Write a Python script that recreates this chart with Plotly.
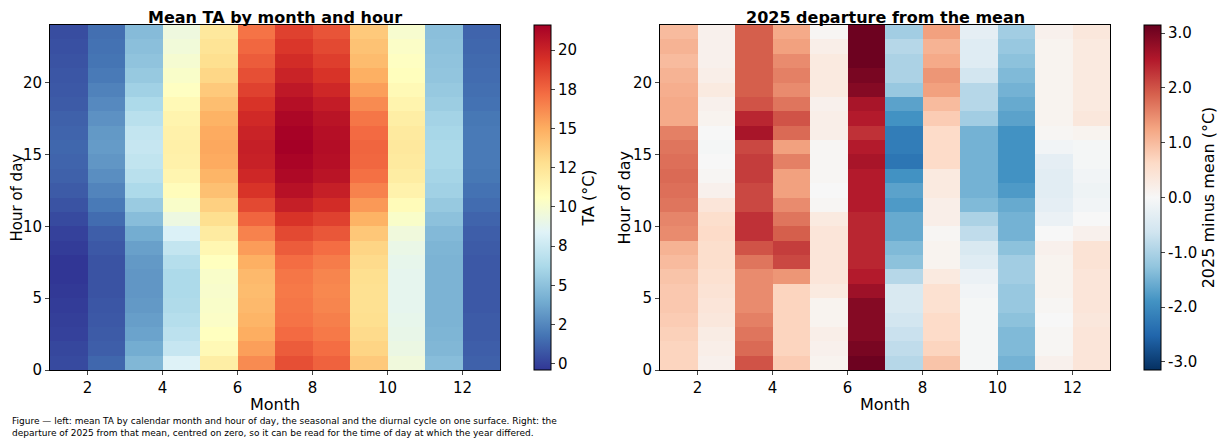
import plotly.graph_objects as go
import numpy as np

months = list(range(1, 13))
hours = list(range(24))

# Mean TA (°C) per month, hours 0..23
ta_m1 = [0.3,0.2,0.0,-0.1,-0.2,-0.3,-0.4,-0.4,-0.2,0.0,0.3,0.6,0.9,1.1,1.2,1.3,1.2,1.1,0.9,0.8,0.7,0.6,0.5,0.4]
ta_m2 = [1.3,1.0,0.9,0.8,0.7,0.6,0.6,0.6,0.8,1.0,1.5,2.0,2.4,2.8,3.1,3.3,3.2,2.9,2.6,2.3,2.0,1.8,1.7,1.6]
ta_m3 = [4.5,4.0,3.6,3.4,3.2,3.1,3.1,3.2,3.5,4.0,4.8,5.5,6.3,6.8,7.1,7.3,7.2,6.8,6.3,5.8,5.4,5.1,4.9,4.7]
ta_m4 = [8.3,7.3,6.9,6.6,6.4,6.3,6.3,6.6,7.2,8.2,9.3,10.2,10.8,11.3,11.6,11.7,11.6,11.4,11.0,10.5,10.2,9.9,9.6,9.4]
ta_m5 = [11.8,11.0,10.6,10.3,10.2,10.1,10.2,10.6,11.2,12.0,12.8,13.5,14.2,14.7,15.1,15.2,15.1,14.8,14.3,13.8,13.2,12.8,12.5,12.2]
ta_m6 = [16.2,15.5,15.0,14.7,14.5,14.4,14.5,14.9,15.6,16.5,17.5,18.5,19.3,19.8,20.1,20.2,20.0,19.7,19.3,18.8,18.3,17.8,17.4,17.0]
ta_m7 = [18.3,17.8,17.3,17.0,16.9,16.8,16.9,17.2,17.8,18.5,19.3,20.2,20.8,21.2,21.4,21.6,21.5,21.3,20.9,20.5,20.0,19.6,19.2,18.8]
ta_m8 = [17.6,17.2,16.8,16.6,16.4,16.3,16.4,16.7,17.2,18.0,18.8,19.6,20.2,20.7,20.9,21.0,20.9,20.7,20.3,19.8,19.3,18.9,18.5,18.1]
ta_m9 = [13.8,13.3,13.0,12.8,12.7,12.7,12.8,13.0,13.3,13.9,14.8,15.7,16.5,17.1,17.4,17.5,17.3,16.9,16.2,15.5,14.9,14.4,14.1,13.8]
ta_m10 = [9.5,9.2,9.0,8.9,8.8,8.8,8.8,8.9,9.1,9.5,10.2,10.9,11.5,11.9,12.1,12.2,12.1,11.8,11.4,11.0,10.7,10.5,10.3,10.0]
ta_m11 = [4.8,4.5,4.4,4.3,4.3,4.3,4.3,4.3,4.4,4.6,5.0,5.4,5.8,6.0,6.2,6.2,6.1,5.9,5.6,5.4,5.2,5.1,5.0,4.9]
ta_m12 = [1.1,1.0,0.9,0.9,0.8,0.8,0.8,0.8,0.9,1.0,1.2,1.5,1.7,1.9,2.0,2.0,2.0,1.9,1.7,1.6,1.5,1.4,1.3,1.2]

# 2025 minus mean (°C)
d_m1 = [0.7,0.7,0.75,0.8,0.85,0.85,0.9,1.0,1.1,1.5,1.55,1.7,1.75,1.8,1.75,1.7,1.6,1.2,1.2,1.15,1.1,1.0,1.1,1.0]
d_m2 = [0.15,0.2,0.25,0.35,0.4,0.45,0.5,0.55,0.55,0.6,0.55,0.4,0.15,0.05,0.0,-0.05,0.0,0.1,0.15,0.3,0.2,0.15,0.15,0.15]
d_m3 = [2.0,1.8,1.7,1.6,1.5,1.5,1.5,1.7,2.0,2.3,2.3,2.1,2.1,2.2,2.2,2.1,2.6,2.4,2.0,1.9,1.9,1.9,1.9,1.9]
d_m4 = [0.8,0.7,0.7,0.7,0.7,0.7,1.4,2.1,2.2,1.9,1.7,1.5,1.3,1.3,1.6,1.3,1.8,2.0,1.7,1.5,1.6,1.5,1.3,1.2]
d_m5 = [0.1,0.15,0.2,0.1,0.1,0.3,0.4,0.4,0.4,0.4,0.3,0.05,0.0,0.05,0.05,0.05,0.2,0.2,0.15,0.3,0.3,0.3,0.2,0.05]
d_m6 = [3.1,3.0,2.9,2.9,2.9,2.7,2.5,2.4,2.4,2.4,2.4,2.5,2.5,2.5,2.6,2.5,2.3,2.5,2.6,2.9,3.0,3.1,3.1,3.1]
d_m7 = [-0.9,-0.8,-0.7,-0.6,-0.5,-0.5,-0.9,-1.3,-1.4,-1.6,-1.6,-1.8,-1.7,-1.9,-2.3,-2.2,-2.2,-1.9,-1.7,-1.2,-1.0,-1.0,-0.9,-1.1]
d_m8 = [0.9,0.7,0.6,0.6,0.5,0.5,0.3,0.1,0.1,0.05,0.2,0.2,0.3,0.3,0.6,0.6,0.6,0.8,1.0,1.3,1.4,1.2,1.1,1.3]
d_m9 = [-0.05,-0.05,-0.05,-0.05,-0.05,-0.1,-0.2,-0.4,-0.5,-0.8,-1.0,-1.4,-1.5,-1.5,-1.5,-1.5,-1.5,-1.1,-0.9,-0.9,-0.6,-0.4,-0.4,-0.3]
d_m10 = [-1.5,-1.4,-1.4,-1.3,-1.2,-1.2,-1.1,-1.1,-1.3,-1.5,-1.5,-1.6,-1.8,-1.9,-1.9,-1.9,-1.9,-1.7,-1.6,-1.5,-1.4,-1.3,-1.2,-1.1]
d_m11 = [0.15,0.05,0.05,0.0,0.05,0.1,0.1,0.1,0.15,0.0,-0.2,-0.3,-0.35,-0.35,-0.3,-0.1,0.05,0.1,0.1,0.1,0.1,0.1,0.1,0.15]
d_m12 = [0.4,0.4,0.4,0.35,0.4,0.4,0.4,0.45,0.45,0.15,0.0,-0.1,-0.15,-0.1,-0.05,-0.05,0.1,0.35,0.3,0.3,0.3,0.3,0.3,0.35]

ta = np.array([ta_m1,ta_m2,ta_m3,ta_m4,ta_m5,ta_m6,ta_m7,ta_m8,ta_m9,ta_m10,ta_m11,ta_m12]).T
dep = np.array([d_m1,d_m2,d_m3,d_m4,d_m5,d_m6,d_m7,d_m8,d_m9,d_m10,d_m11,d_m12]).T

xc = [m + 0.5 for m in months]
yc = [h + 0.5 for h in hours]
lim = 3.15
OFF = 8  # page body margin
W, H = 1231, 440
L, R, T, B = 50 - OFF, 20, 25 - OFF, 70 + OFF
PW = W - L - R
PH = H - T - B
font = dict(family="DejaVu Sans", color="black")

def px(xpage):
    return (xpage - OFF - L) / PW

def cbar(xpix, title, vals, texts):
    return dict(x=px(xpix), xanchor="left", y=0, yanchor="bottom", len=1, lenmode="fraction", ypad=0,
                thickness=17, outlinecolor="black", outlinewidth=1, ticks="outside", ticklen=4,
                tickvals=vals, ticktext=texts, tickfont=dict(size=15, **font),
                title=dict(text=title, side="right", font=dict(size=16, **font)))

fig = go.Figure()
fig.add_trace(go.Heatmap(z=ta, x=xc, y=yc, colorscale="RdYlBu", reversescale=True,
    zmin=float(ta.min()), zmax=float(ta.max()), xaxis="x", yaxis="y",
    colorbar=cbar(524, "TA (°C)", [0,2.5,5,7.5,10,12.5,15,17.5,20],
                  ["0","2","5","8","10","12","15","18","20"])))
fig.add_trace(go.Heatmap(z=dep, x=xc, y=yc, colorscale="RdBu", reversescale=True,
    zmin=-lim, zmax=lim, xaxis="x2", yaxis="y2",
    colorbar=cbar(1134, "2025 minus mean (°C)", [-3,-2,-1,0,1,2,3],
                  ["-3.0","-2.0","-1.0","0.0","1.0","2.0","3.0"])))

ax = dict(showline=True, linecolor="black", linewidth=1, mirror=True, ticks="outside", ticklen=4,
          showgrid=False, zeroline=False, automargin=False, tickfont=dict(size=15, **font))
ann = dict(xref="paper", yref="paper", showarrow=False)
fig.update_layout(
    width=W, height=H, margin=dict(l=L, r=R, t=T, b=B, autoexpand=False),
    plot_bgcolor="white", paper_bgcolor="white", font=font,
    xaxis=dict(domain=[0, 450/PW], range=[1, 13], tickvals=[2,4,6,8,10,12],
               title=dict(text="Month", font=dict(size=16), standoff=2), **ax),
    yaxis=dict(domain=[0, 1], range=[0, 24], tickvals=[0,5,10,15,20], **ax),
    xaxis2=dict(domain=[610/PW, 1060/PW], range=[1, 13], tickvals=[2,4,6,8,10,12], anchor="y2",
                title=dict(text="Month", font=dict(size=16), standoff=2), **ax),
    yaxis2=dict(domain=[0, 1], range=[0, 24], tickvals=[0,5,10,15,20], anchor="x2", **ax),
    annotations=[
        dict(text="<b>Mean TA by month and hour</b>", x=225/PW, y=1, xanchor="center", yanchor="bottom",
             yshift=-4, font=dict(size=16, **font), **ann),
        dict(text="<b>2025 departure from the mean</b>", x=835/PW, y=1, xanchor="center", yanchor="bottom",
             yshift=-4, font=dict(size=16, **font), **ann),
        dict(text="Hour of day", textangle=-90, x=px(16), y=0.5, xanchor="center", yanchor="middle",
             font=dict(size=15, **font), **ann),
        dict(text="Hour of day", textangle=-90, x=px(624), y=0.5, xanchor="center", yanchor="middle",
             font=dict(size=16, **font), **ann),
        dict(text="Figure — left: mean TA by calendar month and hour of day, the seasonal and the diurnal cycle on one surface. Right: the<br>departure of 2025 from that mean, centred on zero, so it can be read for the time of day at which the year differed.",
             x=px(10), y=-(70 / PH), xanchor="left", yanchor="bottom",
             align="left", font=dict(size=9, **font), **ann),
    ])
fig.write_html("out.html")
